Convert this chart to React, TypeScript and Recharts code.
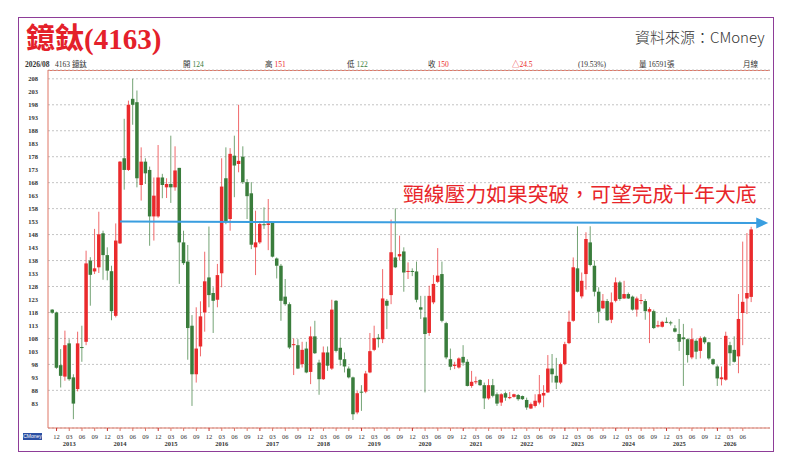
import React from 'react';
import { ComposedChart, Bar, XAxis, YAxis, CartesianGrid, ReferenceLine } from 'recharts';

const START_YEAR = 2012;
const START_MONTH = 11;

const opens = [
  119.1, 118, 97.7, 93.3, 106.1, 93, 88.5, 104.7, 106.7, 138, 133.8, 135.4, 148.5, 140.1, 133.9, 116.7,
  144.6, 177.4, 172.9, 200.3, 199, 167.1, 176.1, 172.9, 155, 155, 170, 166.2, 167.5, 166.2, 173.7, 145,
  137.6, 112.9, 94.2, 104.9, 118, 131.5, 125.5, 122.9, 133.1, 169.7, 154, 178.4, 175.2, 178, 168.2, 163.9,
  143.1, 145, 152, 151.7, 152.5, 138.8, 136, 124.1, 121.2, 105.4, 105.4, 98.1, 104.1, 95.1, 108.8, 98.7,
  92.3, 102.6, 96.4, 122.5, 104.4, 100, 96.4, 93, 79.5, 87.5, 87.5, 94.9, 103.6, 108.3, 107.7, 122.5,
  124.7, 139.2, 139.6, 141.5, 133.7, 134, 133.8, 120, 116.1, 110.1, 121.9, 129.8, 132.8, 113.9, 100, 97.4,
  96.8, 100.9, 99, 89.7, 91.3, 92, 90, 84.9, 90, 86.5, 83.3, 86.9, 85, 85.5, 86.2, 85.8,
  84.3, 81, 82, 83.3, 86, 87.2, 96.4, 93.6, 91, 98.1, 106.2, 114.8, 135, 124.2, 132.8, 145,
  136, 126, 119.6, 122.4, 115.2, 122.5, 129.6, 123.4, 125.1, 124.1, 119.1, 122.5, 122.4, 118.3, 118.5, 112.6,
  112.5, 114.4, 114.2, 111.9, 109.7, 108.4, 107.7, 100.7, 107.1, 103.2, 108.4, 106.5, 100, 97.2, 92.3, 92.1,
  105.4, 103.6, 101.1, 117.8, 123.4, 124,
];
const highs = [
  119.3, 118.3, 103.9, 111, 107.7, 94.2, 110.6, 112.9, 141.8, 139.3, 150.2, 156.8, 149.5, 143.1, 136, 152.3,
  176.3, 192.6, 199.6, 208, 203.5, 181.6, 177.4, 174.2, 170, 182.5, 171.4, 169.7, 186.1, 182, 173.7, 149.5,
  144, 117, 120, 122.3, 141.4, 151.1, 127.7, 136.7, 177.4, 181.6, 181.3, 186.1, 198, 182, 169.4, 168.2,
  157.2, 153, 158.5, 161.7, 152.7, 139.2, 136.7, 130.9, 121.9, 108, 107.7, 106.7, 106.7, 112.6, 114.8, 99.8,
  104.9, 104.9, 122.9, 122.8, 108.3, 102.6, 97.2, 93.3, 87.8, 90, 95.5, 110.1, 112.9, 109.7, 134.7, 123.2,
  153.8, 158.1, 147.6, 143.1, 137.3, 135, 137.6, 124.4, 124.4, 128.3, 132.4, 142.8, 137.6, 114.4, 104.1, 99,
  100.7, 105.4, 100, 95.5, 93.3, 92.3, 91, 92.3, 92.4, 87.2, 86.9, 87.5, 87.4, 86.7, 86.6, 86,
  85.2, 83.3, 86.5, 93.9, 90, 101.6, 102, 100.5, 98.7, 106.7, 118.7, 139.2, 151.2, 133.4, 148.9, 151.2,
  138, 127.7, 125.1, 123.2, 125.7, 131.5, 130.2, 130.2, 125.7, 124.5, 124.1, 125.1, 123.2, 120, 119.1, 114.8,
  114.8, 116.1, 114.8, 113.1, 115.5, 113.6, 108, 111.9, 107.7, 108.8, 108.8, 106.7, 100.3, 97.7, 97.2, 110.6,
  106.7, 108.8, 125.1, 145.3, 148.6, 151,
];
const lows = [
  117.5, 96.3, 89.1, 91.7, 91.7, 76.9, 87.6, 99, 105.4, 120.6, 132.8, 133.2, 130.6, 130.4, 115, 116.1,
  144.4, 165.3, 172.5, 190.3, 166.2, 161.1, 167.5, 143.7, 145.7, 154.5, 162, 162.1, 160.2, 164.9, 129, 136.3,
  99.8, 82, 91, 101.1, 110.6, 120, 110.1, 120, 127.7, 152, 149.5, 162.4, 172, 167.5, 154, 142.4,
  132.4, 144.4, 150.2, 142, 139.2, 131.1, 114.8, 120.6, 103.9, 93.9, 96.2, 96.8, 94.6, 90.4, 102, 86.3,
  92, 95.5, 95.9, 102.6, 97.5, 94.9, 92.6, 76.6, 78.8, 80.1, 86.9, 94.6, 103.1, 104.5, 106.2, 111.6,
  121.2, 135.1, 138, 126, 130.9, 132, 121.9, 115.5, 87.2, 109, 121.2, 129.3, 114.2, 100, 95.8, 96.2,
  96.4, 97.5, 89.5, 89, 90.4, 89.7, 80.8, 84.4, 85.3, 82, 82, 84, 84.6, 85.2, 84, 84.3,
  80.5, 80.8, 81.4, 82.6, 81.5, 87, 91, 88.5, 90.4, 97.7, 105.8, 114.4, 125.7, 123.4, 126.8, 135.8,
  124.2, 113.9, 119.3, 114.7, 113.9, 121.9, 122.5, 123.2, 123.2, 118.7, 116.4, 121.2, 115.2, 106.2, 111.6, 112.2,
  112.2, 113.9, 113, 110.3, 103.2, 89.7, 98.7, 100, 100, 100.3, 105.8, 99.8, 97.7, 89.7, 89.9, 91.7,
  97.5, 98.7, 94.6, 105.4, 117.4, 122,
];
const closes = [
  117.9, 96.7, 93.6, 105.4, 92.3, 82.9, 106.1, 104.3, 136.9, 132.5, 135, 148.1, 140.1, 134.1, 118.5, 145.7,
  176.1, 172.9, 198, 198, 169.7, 176.1, 171.6, 155, 163, 170, 167.1, 167.5, 166.2, 172.7, 145, 137,
  112, 94.2, 104.1, 116.5, 130, 124.7, 122.5, 132.4, 166.5, 153, 179.1, 174.6, 176.4, 168.2, 162.8, 144.1,
  145, 152.1, 151.6, 152.3, 139.5, 136, 122.5, 121.2, 104.5, 105.8, 96.4, 103.6, 94.9, 108.8, 102.3, 92.3,
  102.6, 97.5, 119.1, 103.2, 99.8, 97.2, 93, 78.8, 86.9, 87.2, 94.5, 103.1, 108.1, 107.7, 123.4, 120.6,
  141.2, 135.4, 140.5, 133.4, 134, 133.6, 122.9, 119.1, 109.7, 124.4, 129, 132.2, 114.8, 100.7, 97.1, 97.9,
  100.3, 98.7, 89.7, 91.3, 91.5, 90, 84.9, 90, 85.9, 82.9, 86.5, 85.2, 85.4, 86.5, 84.6, 84.6,
  81.4, 82.7, 84, 86.5, 87, 96.4, 94.2, 91, 98.1, 105.8, 114.4, 135.4, 126, 130.2, 146.3, 136.3,
  126, 118.3, 122.5, 115, 121.9, 129.6, 123.2, 125.1, 123.4, 119.1, 123.4, 122.8, 118.5, 119.3, 112, 113.1,
  114.4, 114.2, 113.8, 110.6, 106.7, 107.7, 101.6, 107.7, 102.9, 108.1, 106.5, 100.3, 98.1, 92.6, 93, 109,
  102.3, 99, 115.5, 122.1, 125.5, 150,
];

const months: string[] = opens.map((_, i) => {
  const t = START_MONTH - 1 + i;
  const y = START_YEAR + Math.floor(t / 12);
  const m = (t % 12) + 1;
  return `${y}/${String(m).padStart(2, '0')}`;
});

const yTicks = [83, 88, 93, 98, 103, 108, 113, 118, 123, 128, 133, 138, 143, 148, 153, 158, 163, 168, 173, 178, 183, 188, 193, 198, 203, 208];

const NECK_START = '2014/03';
const NECK_LEVEL_START = 153;
const NECK_LEVEL_END = 152.5;

const data = months.map((m, i) => ({
  month: m,
  range: [lows[i], highs[i]],
  open: opens[i],
  high: highs[i],
  low: lows[i],
  close: closes[i],
}));

const RED = '#ea2a2c';
const GREEN = '#3a7d3c';
const AXIS_RED = '#de7767';

const Candle = (props: any) => {
  const { x, y, width, height, payload } = props;
  if (x == null || y == null || !payload) return <g />;
  const top = Math.min(y, y + height);
  const bot = Math.max(y, y + height);
  const { high, low, open, close } = payload;
  const span = high - low || 1;
  const toY = (v: number) => top + ((high - v) / span) * (bot - top);
  const cx = x + width / 2;
  const up = close >= open;
  const color = up ? RED : GREEN;
  const bTop = toY(Math.max(open, close));
  const bBot = toY(Math.min(open, close));
  return (
    <g>
      <line x1={cx} x2={cx} y1={top} y2={bot} stroke={color} strokeWidth={1} strokeOpacity={0.7} />
      <rect x={cx - 1.75} y={bTop} width={3.5} height={Math.max(1, bBot - bTop)} fill={color} />
    </g>
  );
};

const MonthTick = (props: any) => {
  const { x, y, payload } = props;
  const [yr, mo] = String(payload.value).split('/');
  const m = Number(mo);
  if (m % 3 !== 0) return <g />;
  return (
    <g>
      <line x1={x} x2={x} y1={y} y2={y + 3} stroke={m === 12 ? '#c9302a' : AXIS_RED} strokeWidth={1} />
      <text x={x} y={y + 11} textAnchor="middle" fontSize={6.5} fill="#333" fontFamily="'Liberation Serif', serif">{mo}</text>
      {m === 3 && (
        <text x={x} y={y + 17.5} textAnchor="middle" fontSize={6.5} fill="#333" fontFamily="'Liberation Serif', serif" fontWeight="bold">{yr}</text>
      )}
    </g>
  );
};

const NeckLine = (props: any) => {
  const { x1, y1, x2, y2 } = props;
  if (x1 == null || x2 == null) return <g />;
  const idx0 = months.indexOf(NECK_START);
  const step = (x2 - x1) / (months.length - 1 - idx0);
  const tip = x2 + step * 4;
  const slope = (y2 - y1) / (x2 - x1);
  const yTip = y2 + slope * (tip - x2);
  return (
    <g>
      <line x1={x1} y1={y1} x2={tip - 10} y2={yTip} stroke="#3a9ee0" strokeWidth={2} />
      <polygon points={`${tip},${yTip} ${tip - 12},${yTip - 5.5} ${tip - 12},${yTip + 5.5}`} fill="#3a9ee0" />
    </g>
  );
};

const hdr: React.CSSProperties = {
  position: 'absolute',
  top: 60,
  fontSize: 7.5,
  lineHeight: '9px',
  fontFamily: "'Liberation Serif', 'Noto Sans CJK TC', serif",
  color: '#333',
  whiteSpace: 'nowrap',
};

export default function App() {
  return (
    <div style={{ position: 'absolute', left: 0, top: 0, width: 792, height: 464, background: '#fff', overflow: 'hidden' }}>
      <div style={{ position: 'absolute', left: 18, top: 17, width: 755.5, height: 435, border: '1.5px solid #8e3d98', boxSizing: 'border-box' }} />
      <div style={{ position: 'absolute', left: 26, top: 22, fontSize: 29, lineHeight: '34px', fontWeight: 'bold', color: '#e4202a', fontFamily: "'Liberation Serif', 'Noto Sans CJK TC', serif", whiteSpace: 'nowrap' }}>
        鐿鈦(4163)
      </div>
      <div style={{ position: 'absolute', left: 635, top: 28, fontSize: 15, lineHeight: '18px', color: '#333', fontFamily: "'Noto Sans CJK TC', sans-serif", fontWeight: 300, whiteSpace: 'nowrap' }}>
        資料來源：CMoney
      </div>

      <div style={{ ...hdr, left: 25, fontWeight: 'bold' }}>2026/08</div>
      <div style={{ ...hdr, left: 55 }}>4163 鐿鈦</div>
      <div style={{ ...hdr, left: 183 }}>開 <span style={{ color: GREEN }}>124</span></div>
      <div style={{ ...hdr, left: 265 }}>高 <span style={{ color: RED }}>151</span></div>
      <div style={{ ...hdr, left: 347 }}>低 <span style={{ color: GREEN }}>122</span></div>
      <div style={{ ...hdr, left: 428 }}>收 <span style={{ color: RED }}>150</span></div>
      <div style={{ ...hdr, left: 512, color: RED }}>△24.5</div>
      <div style={{ ...hdr, left: 578 }}>(19.53%)</div>
      <div style={{ ...hdr, left: 639 }}>量 16591張</div>
      <div style={{ ...hdr, left: 743 }}>月線</div>

      <div style={{ position: 'absolute', left: 48, top: 70, width: 722, height: 1, background: AXIS_RED }} />

      <div style={{ position: 'absolute', left: 0, top: 0 }}>
        <ComposedChart width={792} height={464} data={data} margin={{ top: 70, right: 22, bottom: 6, left: 8 }} barCategoryGap={0}>
          <CartesianGrid horizontal vertical={false} stroke="#c4c4c4" strokeDasharray="2 2" />
          <XAxis
            dataKey="month"
            interval={0}
            tickLine={false}
            tickSize={0}
            tickMargin={0}
            height={30}
            axisLine={{ stroke: AXIS_RED }}
            padding={{ left: 2.2, right: 16.6 }}
            tick={<MonthTick />}
          />
          <YAxis
            type="number"
            domain={[73.5, 211.4]}
            ticks={yTicks}
            width={40}
            tickLine={false}
            tickMargin={4}
            axisLine={{ stroke: AXIS_RED }}
            tick={{ fontSize: 6.5, fill: '#333', fontFamily: "'Liberation Serif', serif", fontWeight: 'bold' }}
            allowDataOverflow
          />
          <Bar dataKey="range" shape={<Candle />} isAnimationActive={false} barSize={4} />
          <ReferenceLine
            segment={[
              { x: NECK_START, y: NECK_LEVEL_START },
              { x: months[months.length - 1], y: NECK_LEVEL_END },
            ]}
            shape={<NeckLine />}
          />
        </ComposedChart>
      </div>

      <div style={{ position: 'absolute', left: 403, top: 182, fontSize: 20.8, lineHeight: '22px', color: '#e8262a', fontFamily: "'Noto Sans CJK TC', sans-serif", whiteSpace: 'nowrap' }}>
        頸線壓力如果突破，可望完成十年大底
      </div>
      <div style={{ position: 'absolute', left: 23, top: 433, width: 19, height: 6.5, background: '#2b4fa3', color: '#fff', fontSize: 5, lineHeight: '6.5px', textAlign: 'center', fontFamily: 'sans-serif', overflow: 'hidden' }}>
        CMoney
      </div>
    </div>
  );
}
